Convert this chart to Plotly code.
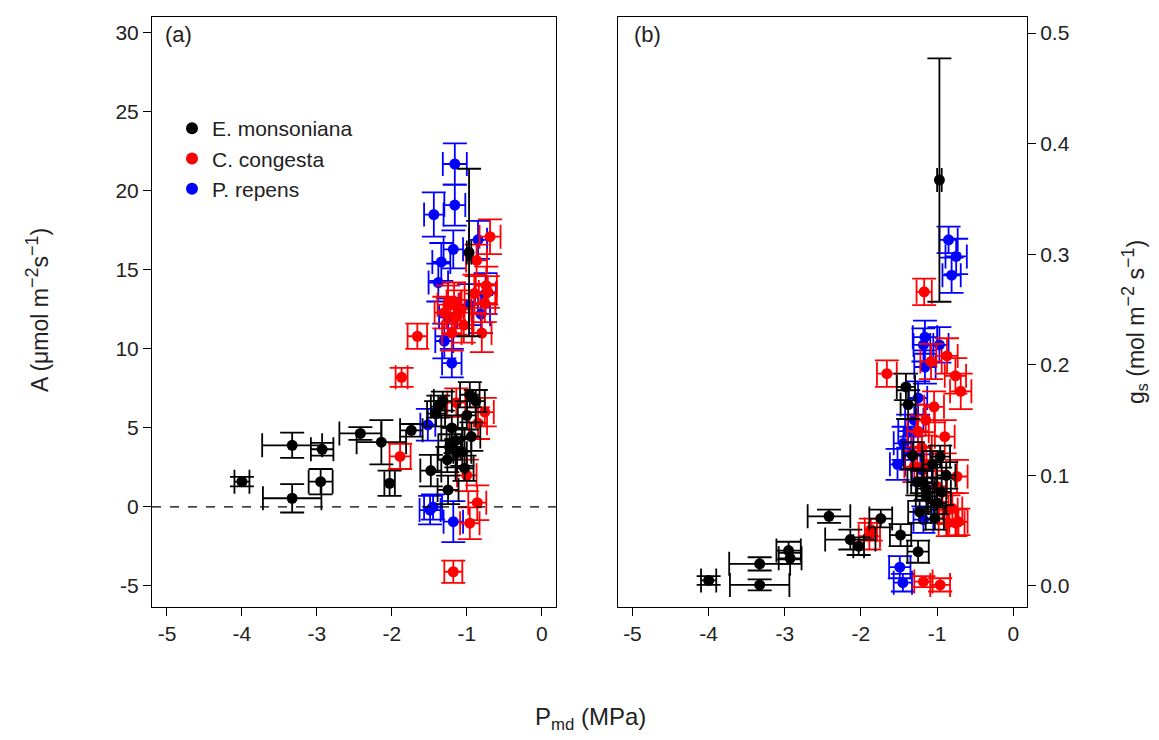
import plotly.graph_objects as go

# ---- E. monsoniana (black) ----
em_x   = [-4.00,-3.33,-3.33,-2.93,-2.95,-2.42,-2.14,-2.03,-1.74,-1.41,-1.38,-1.32,-0.96,-0.88,-1.20,-0.94,-1.23,-1.06,-1.03,-1.48,-1.25,-1.14,-0.97,-1.15,-1.00,-1.26]
em_A   = [1.6,3.9,0.55,3.65,1.6,4.65,4.1,1.5,4.85,5.9,6.35,6.7,7.1,6.7,5.0,4.45,3.8,3.5,2.45,2.3,1.08,3.4,16.1,4.2,5.8,3.0]
em_gs  = [0.005,0.020,0.001,0.025,0.032,0.063,0.042,0.036,0.061,0.180,0.164,0.118,0.117,0.100,0.094,0.085,0.067,0.110,0.061,0.046,0.031,0.081,0.367,0.088,0.075,0.094]
em_xe  = [0.10,0.40,0.39,0.15,0.16,0.28,0.33,0.07,0.15,0.12,0.10,0.12,0.13,0.12,0.14,0.12,0.15,0.12,0.12,0.14,0.14,0.14,0.03,0.12,0.12,0.13]
em_Ae  = [0.3,0.8,0.9,0.4,0.8,0.4,1.4,0.8,0.4,0.8,0.7,0.6,0.8,0.7,0.8,0.9,0.8,0.9,0.8,1.0,0.9,0.9,5.3,0.8,0.9,0.8]
em_gse = [0.004,0.006,0.005,0.005,0.008,0.006,0.009,0.008,0.008,0.012,0.013,0.012,0.010,0.012,0.010,0.012,0.010,0.012,0.010,0.010,0.010,0.012,0.110,0.010,0.010,0.012]

# ---- C. congesta (red) ----
cc_x   = [-0.69,-1.66,-1.87,-1.89,-1.17,-1.08,-0.87,-0.76,-0.74,-1.04,-1.15,-1.18,-0.96,-0.86,-0.85,-1.14,-0.76,-1.00,-1.25,-0.90,-1.20,-0.80,-1.30,-0.72]
cc_A   = [17.1,10.8,8.2,3.2,13.0,12.5,15.6,12.9,14.0,11.5,12.0,-4.1,-1.03,0.27,5.3,6.6,6.0,2.0,12.8,13.5,11.0,11.0,12.3,13.6]
cc_gs  = [0.176,0.192,0.051,0.045,0.266,0.203,0.208,0.190,0.099,0.162,0.150,0.004,0.001,0.057,0.069,0.110,0.057,0.090,0.140,0.135,0.125,0.070,0.108,0.058]
cc_xe  = [0.14,0.13,0.08,0.14,0.10,0.14,0.14,0.14,0.14,0.13,0.12,0.12,0.13,0.12,0.12,0.12,0.12,0.13,0.14,0.13,0.13,0.13,0.13,0.12]
cc_Ae  = [1.1,0.8,0.6,0.8,1.2,1.2,1.0,1.2,1.2,1.1,1.1,0.7,1.0,1.1,1.0,0.9,0.9,1.0,1.2,1.2,1.1,1.2,1.0,1.0]
cc_gse = [0.016,0.012,0.010,0.012,0.012,0.016,0.016,0.016,0.015,0.014,0.014,0.005,0.006,0.012,0.013,0.012,0.012,0.014,0.014,0.015,0.014,0.014,0.014,0.012]

# ---- P. repens (blue) ----
pr_x   = [-1.16,-1.16,-1.44,-1.18,-1.34,-1.38,-0.85,-0.75,-0.81,-1.20,-1.49,-1.45,-1.18,-1.52,-0.97,-1.25,-1.30]
pr_A   = [21.7,19.1,18.5,16.3,15.5,14.2,16.9,13.5,12.2,9.1,-0.2,0.0,-0.93,5.2,12.8,12.0,10.5]
pr_gs  = [0.225,0.198,0.129,0.218,0.120,0.140,0.313,0.298,0.281,0.105,0.017,0.003,0.060,0.110,0.218,0.170,0.150]
pr_xe  = [0.16,0.14,0.13,0.13,0.12,0.13,0.12,0.14,0.12,0.13,0.14,0.12,0.13,0.10,0.12,0.12,0.12]
pr_Ae  = [1.3,1.3,1.4,1.2,1.2,1.2,1.2,1.3,1.2,0.9,0.9,0.8,1.3,1.0,1.3,1.2,1.1]
pr_gse = [0.015,0.015,0.015,0.015,0.015,0.015,0.012,0.016,0.016,0.014,0.010,0.008,0.012,0.014,0.016,0.015,0.014]

x_ticks = [-5, -4, -3, -2, -1, 0]
x_tick_labels = ["-5", "-4", "-3", "-2", "-1", "0"]
A_ticks = [-5, 0, 5, 10, 15, 20, 25, 30]
A_tick_labels = ["-5", "0", "5", "10", "15", "20", "25", "30"]
gs_ticks = [0.0, 0.1, 0.2, 0.3, 0.4, 0.5]
gs_tick_labels = ["0.0", "0.1", "0.2", "0.3", "0.4", "0.5"]

FONT = "Liberation Sans, Arial, sans-serif"
TXT = "#222"

species = [
    ("P. repens", "blue", pr_x, pr_A, pr_gs, pr_xe, pr_Ae, pr_gse, 3),
    ("C. congesta", "red", cc_x, cc_A, cc_gs, cc_xe, cc_Ae, cc_gse, 2),
    ("E. monsoniana", "black", em_x, em_A, em_gs, em_xe, em_Ae, em_gse, 1),
]

fig = go.Figure()
for name, col, x, A, gs, xe, Ae, gse, rank in species:
    eb = dict(type="data", thickness=1.8, width=12, color=col, visible=True)
    fig.add_trace(go.Scatter(
        x=x, y=A, mode="markers", name=name, legendrank=rank,
        marker=dict(color=col, size=11, line=dict(width=0)),
        error_x=dict(array=xe, **eb), error_y=dict(array=Ae, **eb),
        xaxis="x", yaxis="y", showlegend=True))
    fig.add_trace(go.Scatter(
        x=x, y=gs, mode="markers", name=name,
        marker=dict(color=col, size=11, line=dict(width=0)),
        error_x=dict(array=xe, **eb), error_y=dict(array=gse, **eb),
        xaxis="x2", yaxis="y2", showlegend=False))

W, H = 1159, 740
axcommon = dict(showline=True, mirror=True, linecolor="black", linewidth=1,
                ticks="outside", ticklen=8, tickwidth=1, tickcolor="black",
                showgrid=False, zeroline=False,
                tickfont=dict(family=FONT, size=21, color=TXT))

fig.update_layout(
    width=W, height=H, margin=dict(l=0, r=0, t=0, b=0),
    paper_bgcolor="white", plot_bgcolor="white",
    font=dict(family=FONT, color="black"),
    xaxis=dict(domain=[152/W, 556/W], range=[-5.2, 0.19], tickvals=x_ticks,
               ticktext=x_tick_labels, anchor="y", **axcommon),
    yaxis=dict(domain=[1-607/H, 1-17/H], range=[-6.33, 31.0], tickvals=A_ticks,
               ticktext=A_tick_labels, anchor="x", **axcommon),
    xaxis2=dict(domain=[618/W, 1027/W], range=[-5.19, 0.18], tickvals=x_ticks,
                ticktext=x_tick_labels, anchor="y2", **axcommon),
    yaxis2=dict(domain=[1-607/H, 1-17/H], range=[-0.019, 0.5145], tickvals=gs_ticks,
                ticktext=gs_tick_labels, anchor="x2", side="right", **axcommon),
    legend=dict(x=172/W, y=1-108/H, xanchor="left", yanchor="top",
                bgcolor="rgba(0,0,0,0)", font=dict(family=FONT, size=21, color=TXT),
                tracegroupgap=0, itemsizing="constant"),
    showlegend=True,
    shapes=[dict(type="line", xref="x domain", yref="y", x0=0, x1=1, y0=0, y1=0,
                 line=dict(color="black", width=1.3, dash="dash"))],
    annotations=[
        dict(text="(a)", x=163/W, y=1-35/H, xref="paper", yref="paper",
             xanchor="left", yanchor="middle", showarrow=False,
             font=dict(family=FONT, size=22, color=TXT)),
        dict(text="(b)", x=632/W, y=1-35/H, xref="paper", yref="paper",
             xanchor="left", yanchor="middle", showarrow=False,
             font=dict(family=FONT, size=22, color=TXT)),
        dict(text="A (\u03bcmol m<sup><span style='font-size:18px'>\u22122</span></sup>s<sup><span style='font-size:18px'>\u22121</span></sup>)",
             x=38/W, y=1-310/H,
             xref="paper", yref="paper", xanchor="center", yanchor="middle",
             textangle=-90, showarrow=False, font=dict(family=FONT, size=23, color=TXT)),
        dict(text="g<sub>s</sub> (mol m<sup><span style='font-size:18px'>\u22122</span></sup> s<sup><span style='font-size:18px'>\u22121</span></sup>)",
             x=1134/W, y=1-322/H,
             xref="paper", yref="paper", xanchor="center", yanchor="middle",
             textangle=-90, showarrow=False, font=dict(family=FONT, size=23, color=TXT)),
        dict(text="P<sub>md</sub> (MPa)", x=590/W, y=1-718/H,
             xref="paper", yref="paper", xanchor="center", yanchor="middle",
             showarrow=False, font=dict(family=FONT, size=24, color=TXT)),
    ],
)

fig.write_html("out.html")
